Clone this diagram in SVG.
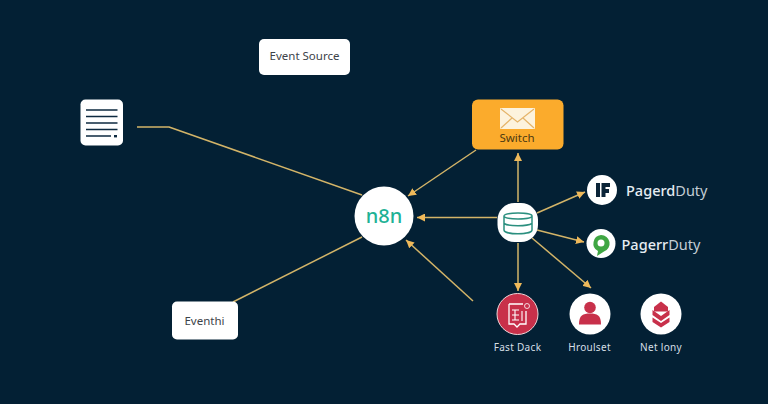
<svg xmlns="http://www.w3.org/2000/svg" width="768" height="404" viewBox="0 0 768 404">
<defs>
<marker id="arr" markerUnits="userSpaceOnUse" markerWidth="9" markerHeight="8" refX="8" refY="4" orient="auto"><path d="M0 0L8 4L0 8Z" fill="#efb95a"/></marker>
</defs>
<style>
text{font-family:"Noto Sans","Liberation Sans",sans-serif}
.c{fill:none;stroke:#d3b468;stroke-width:1.5;stroke-linejoin:round}
.a{marker-end:url(#arr)}
.w{fill:#fff}
.box{font-size:11.5px;fill:#3d4349;text-anchor:middle}
.cap{font-size:10px;fill:#d5dfe6;text-anchor:middle;letter-spacing:.3px}
.pd{font-size:14.5px;fill:#e6edf2}
.red{fill:#c8304a}
</style>
<rect width="768" height="404" fill="#032034"/>
<g id="connectors">
<path class="c" d="M137 127H169L362 195"/>
<path class="c" d="M233 302L362 237"/>
<path class="c a" d="M476 150L408 196"/>
<path class="c a" d="M497 217.500H417"/>
<path class="c a" d="M473 301L406 240"/>
<path class="c a" d="M518 202V153"/>
<path class="c a" d="M537 213L585 192"/>
<path class="c a" d="M537 230L584 242"/>
<path class="c a" d="M518 243V291"/>
<path class="c a" d="M532 238L591 288"/>
</g>
<g id="event-source">
<rect class="w" x="259" y="39" width="91" height="36" rx="5"/>
<text class="box" x="304.500" y="59.500">Event Source</text>
</g>
<g id="document">
<rect class="w" x="80.500" y="99.500" width="42.500" height="46" rx="5"/>
<path d="M86 110H117.500M86 116.500H117.500M86 123H117.500M86 129.500H117.500M86 136H111" stroke="#0e2a40" stroke-width="1.600" fill="none"/>
<rect x="114" y="135" width="3" height="2.400" fill="#0e2a40"/>
</g>
<g id="switch">
<rect x="472" y="99.500" width="91.500" height="50" rx="6" fill="#fbab2c"/>
<rect x="500" y="108" width="35" height="21" rx="1" fill="#fdf3dd"/>
<path d="M501 109L517.500 122L534 109M501 128L512 118M534 128L523 118" fill="none" stroke="#e5b469" stroke-width="1.200"/>
<text x="517" y="142" font-size="11.500" fill="#4d3a12" text-anchor="middle">Switch</text>
</g>
<g id="n8n">
<circle class="w" cx="384" cy="216" r="29.500"/>
<text x="384" y="223" font-size="20" font-weight="500" fill="#1fb295" text-anchor="middle">n8n</text>
</g>
<g id="eventhi">
<rect class="w" x="172" y="301.500" width="66" height="38" rx="5"/>
<text class="box" x="204.500" y="324.500">Eventhi</text>
</g>
<g id="database">
<rect class="w" x="497.500" y="203" width="40.500" height="39" rx="17"/>
<path d="M504 216C504 212 532 212 532 216V230C532 235 504 235 504 230ZM504 216C504 220 532 220 532 216M504 223.500C509 226.500 527 226.500 532 223.500" fill="none" stroke="#2b8f7f" stroke-width="1.500"/>
</g>
<g id="pagerd">
<circle class="w" cx="602" cy="190" r="15"/>
<rect x="596" y="183" width="4" height="14" fill="#0b2438"/>
<path d="M601.500 183H610V187H605.500V189H609V193H605.500V197H601.500Z" fill="#0b2438"/>
<text class="pd" x="626" y="196"><tspan font-weight="500">Pagerd</tspan><tspan font-weight="400" fill="#c3ced6">Duty</tspan></text>
</g>
<g id="pagerr">
<circle class="w" cx="601" cy="243.500" r="14.500"/>
<path d="M601 235A8.500 8.500 0 0 1 604 251.500L597 256L598 251A8.500 8.500 0 0 1 601 235Z" fill="#3fa643"/>
<circle cx="601" cy="243" r="3.500" fill="#fff"/>
<text class="pd" x="621.500" y="250"><tspan font-weight="500">Pagerr</tspan><tspan font-weight="400" fill="#c3ced6">Duty</tspan></text>
</g>
<g id="fast-dack">
<circle class="red" cx="517.500" cy="314" r="20.500" stroke="#f0d5d8" stroke-width="1"/>
<path d="M509 304H523M509 304V324H514L517 327L520 324H526V311" fill="none" stroke="#fff" stroke-width="1.300"/>
<path d="M512 310H519M515 310V320M512 315H519M512 320H519M522 311V321" fill="none" stroke="#fff" stroke-width="1.100"/>
<circle cx="527" cy="306" r="2.500" fill="none" stroke="#fff" stroke-width=".8"/>
<text class="cap" x="517.500" y="350.500">Fast Dack</text>
</g>
<g id="hroulset">
<circle class="w" cx="590" cy="314" r="20.500"/>
<circle class="red" cx="590" cy="307.500" r="5.800"/>
<path class="red" d="M579 324.500C579 315 583 313.500 590 313.500C597 313.500 601 315 601 324.500Z"/>
<text class="cap" x="589.500" y="350.500">Hroulset</text>
</g>
<g id="net-lony">
<circle class="w" cx="661" cy="314" r="20.500"/>
<path class="red" d="M661 301.500L668 307V311.500H654V307Z"/>
<path class="red" d="M652.500 310L661 316L669.500 310V315L661 321L652.500 315Z"/>
<path class="red" d="M652.500 317.500L661 323L669.500 317.500V322L661 327.500L652.500 322Z"/>
<text class="cap" x="661" y="350.500">Net lony</text>
</g>
</svg>
